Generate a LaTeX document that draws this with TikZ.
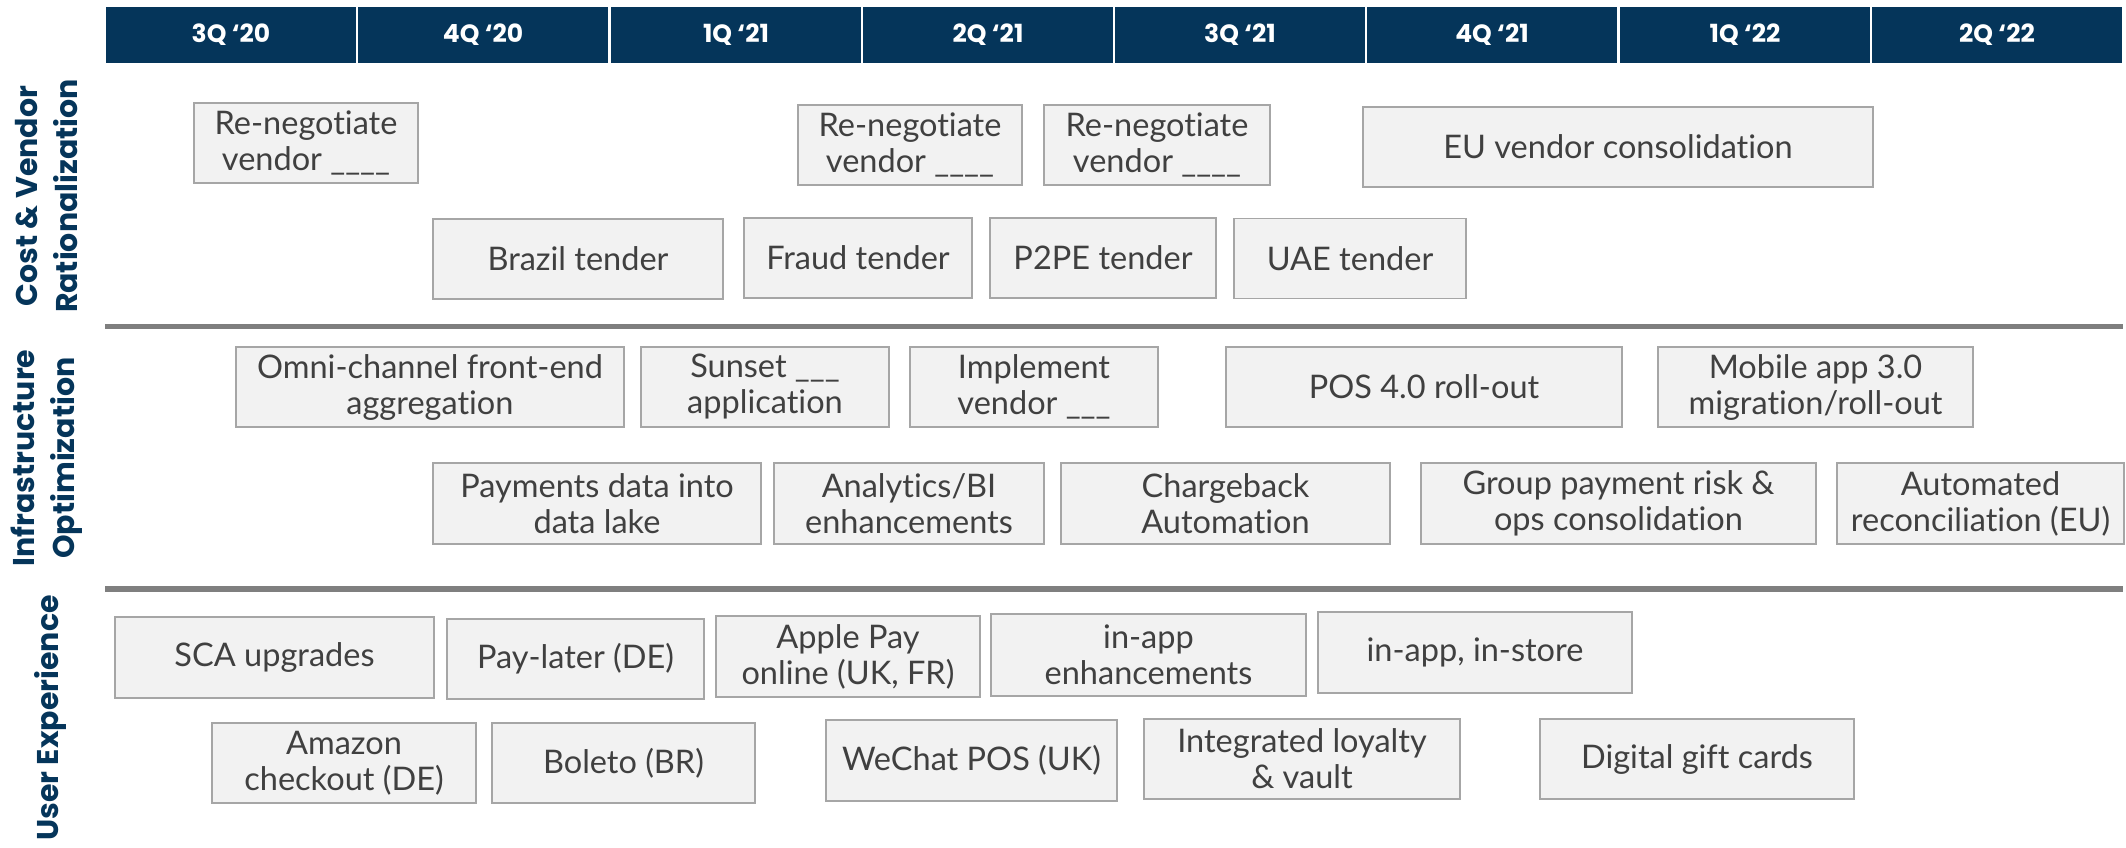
\documentclass[tikz,border=0pt]{standalone}
\usepackage{fontspec}
\setmainfont{Lato}[Ligatures=NoCommon]
\newfontfamily\headfont{Poppins}
\usepackage{tikz}
\definecolor{navyx}{HTML}{05355A}
\definecolor{boxfill}{HTML}{F2F2F2}
\definecolor{boxline}{HTML}{A6A6A6}
\definecolor{txtgray}{HTML}{404040}
\definecolor{rulegray}{HTML}{7F7F7F}
\tikzset{
  qcell/.style={fill=navyx,draw=white,line width=2.5pt,minimum width=252pt,minimum height=58pt,
    text=white,font=\headfont\bfseries\fontsize{25}{30}\selectfont},
  task/.style={draw=boxline,fill=boxfill,line width=1.5pt,align=center,text=txtgray,inner sep=0pt,
    minimum height=80pt,font=\fontsize{32.5}{36}\selectfont},
  wd/.style={minimum width=#1},
  lane/.style={rotate=90,align=center,text=navyx,font=\headfont\bfseries\fontsize{30}{40}\selectfont}
}

\begin{document}
\begin{tikzpicture}[x=1pt,y=-1pt]
\useasboundingbox (0,0) rectangle (2126,847);
% quarters
\node[qcell] (q1) at (231,35) {3Q ‘20};
\node[qcell] (q2) at (483,35) {4Q ‘20};
\node[qcell] (q3) at (736,35) {1Q ‘21};
\node[qcell] (q4) at (988,35) {2Q ‘21};
\node[qcell] (q5) at (1240,35) {3Q ‘21};
\node[qcell] (q6) at (1492,35) {4Q ‘21};
\node[qcell] (q7) at (1745,35) {1Q ‘22};
\node[qcell] (q8) at (1997,35) {2Q ‘22};
% lane rules
\draw[rulegray,line width=5.5pt] (105,326.5)--(2123,326.5);
\draw[rulegray,line width=5.5pt] (105,589)--(2123,589);
% lane titles
\node[lane] (costlane) at (47,196) {Cost \& Vendor\\Rationalization};
\node[lane] (infralane) at (47,458) {Infrastructure\\Optimization};
\node[lane] (uxlane) at (50,718) {User Experience};
% cost & vendor
\node[task,wd=224pt] (renegA) at (306,143) {Re-negotiate\\vendor \_\_\_\_};
\node[task,wd=224pt] (renegB) at (910,145) {Re-negotiate\\vendor \_\_\_\_};
\node[task,wd=226pt] (renegC) at (1157,145) {Re-negotiate\\vendor \_\_\_\_};
\node[task,wd=510pt] (euvend) at (1618,147) {EU vendor consolidation};
\node[task,wd=290pt] (brazil) at (578,259) {Brazil tender};
\node[task,wd=228pt] (fraud) at (858,258) {Fraud tender};
\node[task,wd=226pt] (ptpe) at (1103,258) {P2PE tender};
\node[task,wd=232pt] (uae) at (1350,258.5) {UAE tender};
% infrastructure
\node[task,wd=388pt] (omni) at (430,387) {Omni-channel front-end\\aggregation};
\node[task,wd=248pt] (sunset) at (765,387) {Sunset \_\_\_\\application};
\node[task,wd=248pt] (implvend) at (1034,387) {Implement\\vendor \_\_\_};
\node[task,wd=396pt] (pos) at (1424,387) {POS 4.0 roll-out};
\node[task,wd=315pt] (mobile) at (1815.5,387) {Mobile app 3.0\\migration/roll-out};
\node[task,wd=328pt,minimum height=81pt] (datalake) at (597,503.5) {Payments data into\\data lake};
\node[task,wd=270pt,minimum height=81pt] (analytics) at (909,503.5) {Analytics/BI\\enhancements};
\node[task,wd=329pt,minimum height=81pt] (chargeback) at (1225.5,503.5) {Chargeback\\Automation};
\node[task,wd=395pt,minimum height=81pt] (grouprisk) at (1618.5,503.5) {Group payment risk \&\\ops consolidation};
\node[task,wd=287pt,minimum height=81pt] (recon) at (1980.5,503.5) {Automated\\reconciliation (EU)};
% user experience
\node[task,wd=319pt,minimum height=81pt] (sca) at (274.5,657.5) {SCA upgrades};
\node[task,wd=257pt] (paylater) at (575.5,659) {Pay-later (DE)};
\node[task,wd=264pt,minimum height=81pt] (applepay) at (848,656.5) {Apple Pay\\online (UK, FR)};
\node[task,wd=315pt,minimum height=82pt] (inappenh) at (1148.5,655) {in-app\\enhancements};
\node[task,wd=314pt,minimum height=81pt] (instore) at (1475,652.5) {in-app, in-store};
\node[task,wd=264pt] (amazon) at (344,763) {Amazon\\checkout (DE)};
\node[task,wd=263pt] (boleto) at (623.5,763) {Boleto (BR)};
\node[task,wd=291pt,minimum height=81pt] (wechat) at (971.5,760.5) {WeChat POS (UK)};
\node[task,wd=316pt] (loyalty) at (1302,759) {Integrated loyalty\\\& vault};
\node[task,wd=314pt] (giftcards) at (1697,759) {Digital gift cards};
\end{tikzpicture}
\end{document}
